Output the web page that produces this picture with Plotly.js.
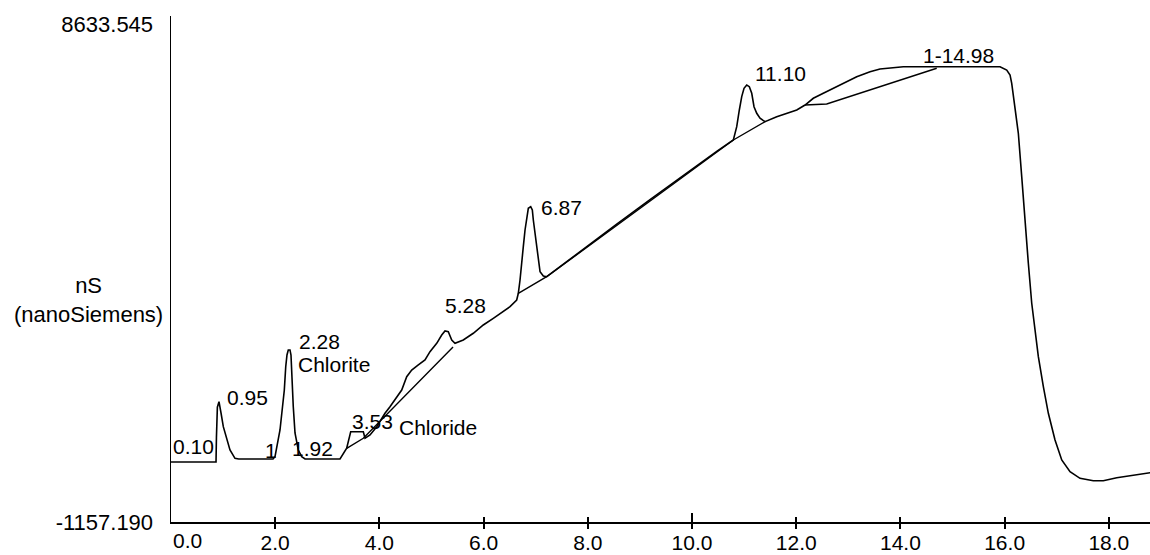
<!DOCTYPE html>
<html><head><meta charset="utf-8">
<script src="https://cdn.plot.ly/plotly-3.0.1.min.js"></script>
<style>html,body{margin:0;padding:0;background:#fff}#chart{width:1150px;height:555px}</style>
</head><body><div id="chart"></div>
<script>
// Chromatogram signal (retention time in min, conductivity in nS)
const timeMin = [
  0, 0.864, 0.872, 0.89, 0.921, 0.94, 0.96, 1.004, 1.069, 1.132, 1.228, 1.3,
  1.958, 1.996, 2.092, 2.136, 2.175, 2.202, 2.226, 2.251, 2.284, 2.303, 2.317, 2.347, 2.38, 2.443, 2.509, 2.572,
  3.244, 3.372, 3.449, 3.691, 3.724, 3.82, 3.948, 4.107, 4.203, 4.332, 4.428, 4.524, 4.62, 4.747, 4.875, 4.971, 5.1, 5.196, 5.259, 5.322, 5.388, 5.451,
  5.61, 5.802, 5.994, 6.186, 6.378, 6.507, 6.635, 6.666, 6.699, 6.731, 6.762, 6.795, 6.827, 6.858, 6.904, 6.935, 6.954, 6.987, 7.019, 7.05, 7.083, 7.146, 7.211,
  7.595, 7.979, 8.555, 9.194, 9.833, 10.474, 10.793,
  10.858, 10.908, 10.954, 10.998, 11.05, 11.1, 11.146, 11.19, 11.242, 11.305, 11.401,
  11.626, 11.818, 12.01, 12.169, 12.328, 12.52, 12.712, 12.904, 13.161, 13.417, 13.608, 14.056, 15.912,
  16.04, 16.104, 16.136, 16.2, 16.263, 16.328, 16.392, 16.455, 16.52, 16.583, 16.647, 16.743, 16.839, 16.967, 17.096, 17.255, 17.447, 17.702, 17.894, 18.152, 18.47, 18.791
];
const signalNS = [
  22, 22, 500, 1100, 1208, 1120, 986, 717, 455, 258, 95, 81,
  81, 127, 652, 1110, 1438, 1896, 2126, 2225, 2225, 2126, 1772, 1110, 593, 258, 127, 81,
  81, 292, 618, 618, 489, 553, 717, 980, 1110, 1306, 1438, 1700, 1831, 1930, 2028, 2191, 2356, 2519, 2598, 2584, 2421, 2356,
  2421, 2553, 2716, 2847, 2978, 3076, 3207, 3339, 3601, 3994, 4256, 4584, 4845, 5010, 5042, 4977, 4780, 4519, 4256, 3929, 3764, 3679, 3665,
  3960, 4260, 4700, 5180, 5660, 6130, 6353,
  6615, 6943, 7205, 7370, 7434, 7401, 7271, 7008, 6878, 6780, 6713,
  6811, 6878, 6943, 7041, 7173, 7271, 7370, 7468, 7598, 7696, 7749, 7794, 7794,
  7729, 7631, 7468, 6943, 6485, 5632, 4715, 3929, 3143, 2618, 2093, 1503, 980, 455, 62, -168, -298, -345, -345, -286, -233, -188
];
// Integration baselines drawn under the peaks (null = gap)
const baseTimeA = [3.372, 3.691, 5.413, null, 6.666, 7.211, 10.793, 11.401];
const baseNSA   = [292, 489, 2283, null, 3339, 3665, 6353, 6713];
const baseTimeB = [12.169, 12.585, 14.697];
const baseNSB   = [7041, 7061, 7763];

// Peak labels and their anchor (left edge, middle) in data units
const peakLabels = ['0.10', '0.95', '2.28', 'Chlorite', '1', '1.92', '3.53', 'Chloride', '5.28', '6.87', '11.10', '1-14.98'];
const labelTime  = [0.0, 1.036, 2.418, 2.399, 1.766, 2.284, 3.436, 4.338, 5.221, 7.063, 11.171, 14.395];
const labelNS    = [327, 1291, 2392, 1930, 258, 292, 819, 691, 3094, 5026, 7661, 8024];

const yMin = -1157.190, yMax = 8633.545;
const yTickVals = [yMin, yMax];
const yTickText = ['-1157.190', '8633.545'];
const xTickVals = [2, 4, 6, 8, 10, 12, 14, 16, 18];
const xTickText = ['2.0', '4.0', '6.0', '8.0', '10.0', '12.0', '14.0', '16.0', '18.0'];
const xMax = 18.79;

const FAMILY = '"Liberation Sans", Arial, sans-serif';
const FONT = {family: FAMILY, size: 21, color: '#000'};
const AXFONT = {family: FAMILY, size: 22, color: '#000'};
const plotH = 506;
const yPad = (yMax - yMin) / 498 * 8;

const traces = [
  {x: timeMin, y: signalNS, mode: 'lines', line: {color: '#000', width: 1.6}, hoverinfo: 'skip', showlegend: false},
  {x: baseTimeA, y: baseNSA, xaxis: 'x2', yaxis: 'y', mode: 'lines', line: {color: '#000', width: 1.4}, connectgaps: false, hoverinfo: 'skip', showlegend: false},
  {x: baseTimeB, y: baseNSB, xaxis: 'x3', yaxis: 'y', mode: 'lines', line: {color: '#000', width: 1.4}, hoverinfo: 'skip', showlegend: false}
];

const annotations = peakLabels.map((t, i) => ({
  text: t, x: labelTime[i], y: labelNS[i], xref: 'x', yref: 'y',
  xanchor: 'left', yanchor: 'middle', showarrow: false, font: FONT
}));
annotations.push({text: 'nS<br>(nanoSiemens)', xref: 'paper', yref: 'paper',
  x: (88 - 171) / 979, y: (522 - 300) / plotH, xanchor: 'center', yanchor: 'middle',
  align: 'center', showarrow: false, font: AXFONT});
annotations.push({text: '0.0', xref: 'paper', yref: 'paper', x: 0, y: (522 - 540) / plotH,
  xanchor: 'left', yanchor: 'middle', showarrow: false, font: FONT});

function tickAxis(side, len, vals) {
  return {overlaying: 'x', range: [0, xMax], anchor: 'y', showline: false,
    ticks: side, ticklen: len, tickwidth: 2, tickcolor: '#000', tickvals: vals,
    showticklabels: false, showgrid: false, zeroline: false, fixedrange: true};
}

const layout = {
  width: 1150, height: 555,
  margin: {l: 171, r: 0, t: 16, b: 33},
  paper_bgcolor: '#fff', plot_bgcolor: '#fff',
  font: FONT,
  xaxis: {range: [0, xMax], anchor: 'y', showline: true, linecolor: '#000', linewidth: 1.5,
    ticks: 'outside', ticklen: 5, tickwidth: 2, tickcolor: '#000',
    tickvals: xTickVals, ticktext: xTickText, ticklabelstandoff: -4,
    tickfont: FONT, showgrid: false, zeroline: false, fixedrange: true},
  xaxis2: tickAxis('inside', 5, xTickVals),
  xaxis3: tickAxis('inside', 9, [10]),
  yaxis: {range: [yMin, yMax + yPad], showline: true, linecolor: '#000', linewidth: 1.5,
    ticks: '', tickvals: yTickVals, ticktext: yTickText, tickfont: AXFONT, ticklabelstandoff: 12,
    showgrid: false, zeroline: false, fixedrange: true},
  annotations: annotations
};

Plotly.newPlot('chart', traces, layout, {staticPlot: true, displayModeBar: false});
</script>
</body></html>
